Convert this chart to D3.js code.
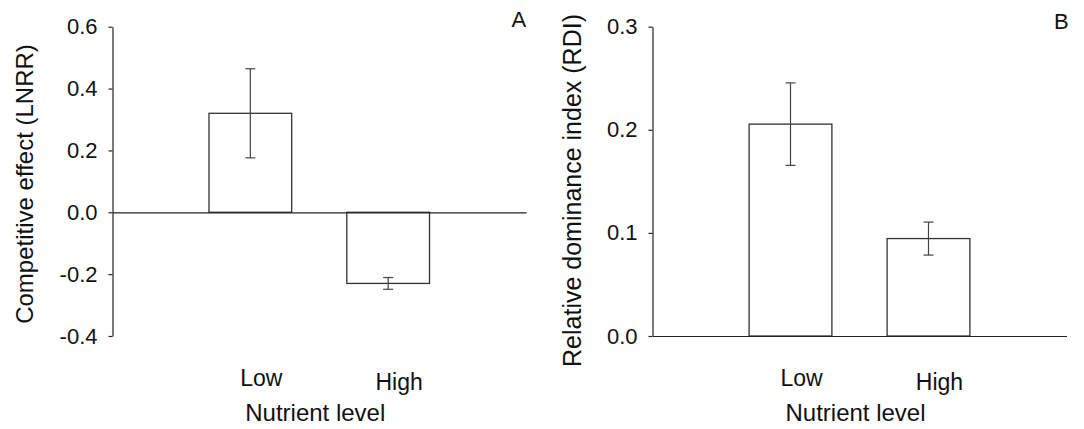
<!DOCTYPE html>
<html>
<head>
<meta charset="utf-8">
<script src="https://cdn.jsdelivr.net/npm/d3@7"></script>
<style>
  body { margin: 0; background: #fff; }
  svg { display: block; font-family: "Liberation Sans", Arial, sans-serif; }
  .bar { fill: #fff; stroke: #333; stroke-width: 1.3px; }
  .err { stroke: #444; stroke-width: 1.2px; fill: none; }
  .axis path, .axis line { stroke: #222; stroke-width: 1.2px; }
  .axis text { fill: #111; font-size: 22px; }
</style>
</head>
<body>
<div id="chart"></div>
<script>
// data
var categories = ["Low", "High"];
var lnrrValues = [0.32, -0.23];
var lnrrErrors = [0.144, 0.019];
var lnrrTicks = [-0.4, -0.2, 0.0, 0.2, 0.4, 0.6];
var lnrrTickLabels = ["-0.4", "-0.2", "0.0", "0.2", "0.4", "0.6"];
var rdiValues = [0.2055, 0.0945];
var rdiErrors = [0.040, 0.016];
var rdiTicks = [0.0, 0.1, 0.2, 0.3];
var rdiTickLabels = ["0.0", "0.1", "0.2", "0.3"];

var width = 1084, height = 429;

var svg = d3.select("#chart").append("svg")
    .attr("width", width)
    .attr("height", height);

svg.append("rect").attr("width", width).attr("height", height).attr("fill", "#fff");

function panel(opts) {
  var x = d3.scalePoint().domain(categories).range([opts.left, opts.right]).padding(1);
  var y = d3.scaleLinear().domain(d3.extent(opts.ticks)).range([336, 26.7]);
  var barW = x.step() * 0.6;

  var g = svg.append("g");

  // bars
  g.selectAll(".bar")
    .data(opts.values)
    .enter().append("rect")
    .attr("class", "bar")
    .attr("x", function (d, i) { return x(categories[i]) - barW / 2; })
    .attr("y", function (d) { return y(Math.max(0, d)); })
    .attr("width", barW)
    .attr("height", function (d) { return Math.abs(y(d) - y(0)); });

  // error bars
  var eb = g.selectAll(".eb")
    .data(opts.values)
    .enter().append("g");
  eb.append("line").attr("class", "err")
    .attr("x1", function (d, i) { return x(categories[i]); })
    .attr("x2", function (d, i) { return x(categories[i]); })
    .attr("y1", function (d, i) { return y(d + opts.errors[i]); })
    .attr("y2", function (d, i) { return y(d - opts.errors[i]); });
  [1, -1].forEach(function (s) {
    eb.append("line").attr("class", "err")
      .attr("x1", function (d, i) { return x(categories[i]) - 5; })
      .attr("x2", function (d, i) { return x(categories[i]) + 5; })
      .attr("y1", function (d, i) { return y(d + s * opts.errors[i]); })
      .attr("y2", function (d, i) { return y(d + s * opts.errors[i]); });
  });

  // zero line
  g.append("g")
    .attr("class", "axis")
    .attr("transform", "translate(0," + y(0) + ")")
    .call(d3.axisBottom(x).tickValues([]).tickSizeOuter(0));

  // y axis
  g.append("g")
    .attr("class", "axis")
    .attr("transform", "translate(" + opts.left + ",0)")
    .call(d3.axisLeft(y)
      .tickValues(opts.ticks)
      .tickSize(4)
      .tickSizeOuter(0)
      .tickPadding(11)
      .tickFormat(function (d, i) { return opts.tickLabels[i]; }));

  // category labels
  g.selectAll(".cat")
    .data(categories)
    .enter().append("text")
    .attr("x", function (d) { return x(d) + 11; })
    .attr("y", function (d, i) { return 386 + i * 3.5; })
    .attr("text-anchor", "middle")
    .attr("font-size", 23)
    .attr("fill", "#111")
    .text(function (d) { return d; });

  g.append("text")
    .attr("x", (opts.left + opts.right) / 2 - 4)
    .attr("y", 420.5)
    .attr("text-anchor", "middle")
    .attr("font-size", 24)
    .attr("fill", "#111")
    .text("Nutrient level");

  g.append("text")
    .attr("transform", "translate(" + opts.titleX + "," + opts.titleY + ") rotate(-90)")
    .attr("text-anchor", "middle")
    .attr("font-size", opts.titleSize)
    .attr("fill", "#111")
    .text(opts.title);

  g.append("text")
    .attr("x", opts.letterX)
    .attr("y", opts.letterY)
    .attr("font-size", 22)
    .attr("fill", "#111")
    .text(opts.letter);
}

panel({
  left: 112.5, right: 526,
  values: lnrrValues, errors: lnrrErrors,
  ticks: lnrrTicks, tickLabels: lnrrTickLabels,
  title: "Competitive effect (LNRR)", titleX: 33, titleY: 184, titleSize: 24,
  letter: "A", letterX: 511.5, letterY: 27
});

panel({
  left: 652.5, right: 1066.5,
  values: rdiValues, errors: rdiErrors,
  ticks: rdiTicks, tickLabels: rdiTickLabels,
  title: "Relative dominance index (RDI)", titleX: 581, titleY: 190.5, titleSize: 25,
  letter: "B", letterX: 1054, letterY: 28.5
});
</script>
</body>
</html>
